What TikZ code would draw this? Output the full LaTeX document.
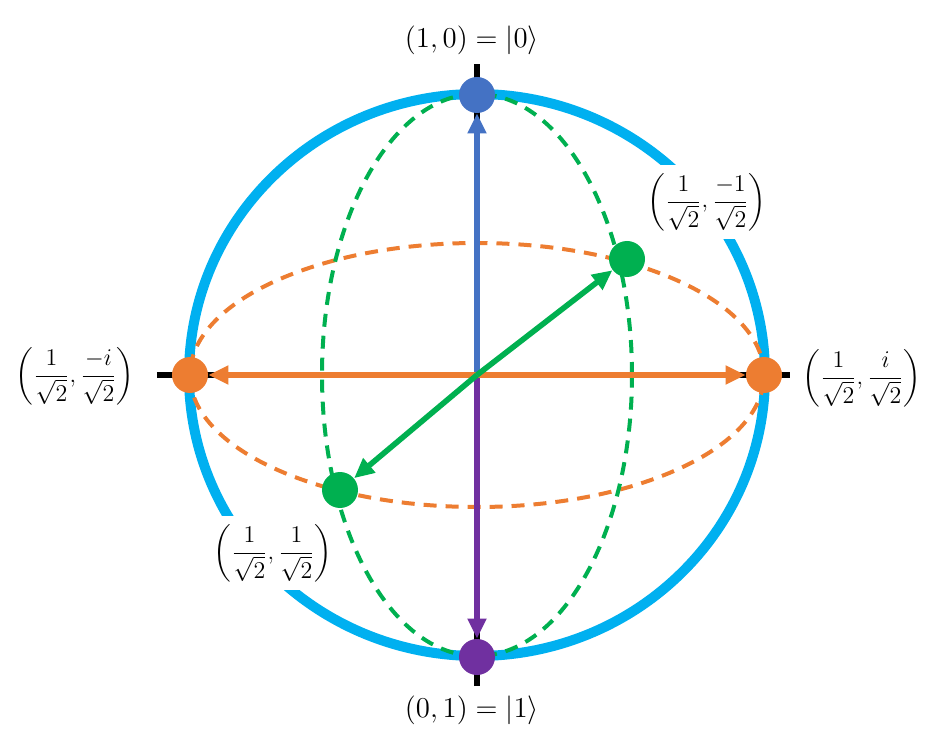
\documentclass[tikz,border=0pt]{standalone}
\usepackage{amsmath}
\usetikzlibrary{arrows.meta}
\definecolor{skyblue}{HTML}{00B0F0}
\definecolor{zeroblue}{HTML}{4472C4}
\definecolor{oneviolet}{HTML}{7030A0}
\definecolor{qorange}{HTML}{ED7D31}
\definecolor{qgreen}{HTML}{00B050}
\begin{document}
\begin{tikzpicture}[x=.5pt, y=.5pt, line join=round, >={Triangle[length=10pt,width=9pt]},
	dot/.style={circle, minimum size=18pt, inner sep=0pt},
	vec/.style={line width=2.8pt, ->},
	ring/.style={line width=2pt, dash pattern=on 6.5pt off 4.5pt},
	lbl/.style={font=\fontsize{14.5}{17}\selectfont, inner sep=1pt},
	frac/.style={font=\fontsize{12.5}{15}\selectfont, inner sep=1pt},
	cover/.style={frac, fill=white, inner sep=4pt}]
	\def\R{288} % Bán kính ngang
	\def\r{281} % Bán kính dọc
	\useasboundingbox (-477,-364) rectangle (454,375);
	\coordinate (O) at (0,0);
	\draw[skyblue, line width=5pt] (O) ellipse ({\R} and {\r});
	\draw[ring, qorange] (O) ellipse (287 and 132);
	\draw[ring, qgreen] (O) ellipse (155 and 281);
	\node[cover] (ta) at (230,173) {$\left(\dfrac{1}{\sqrt{2}},\dfrac{-1}{\sqrt{2}}\right)$};
	\node[cover] (tb) at (-204,-178) {$\left(\dfrac{1}{\sqrt{2}},\dfrac{1}{\sqrt{2}}\right)$};
	\draw[line width=2.8pt] (-320,0)--(313,0);
	\draw[line width=2.8pt] (0,-311)--(0,311);
	\node[dot, fill=zeroblue] (k0) at (0,280) {};
	\node[dot, fill=oneviolet] (k1) at (0,-282) {};
	\node[dot, fill=qorange] (km) at (-287,0) {};
	\node[dot, fill=qorange] (kp) at (287,0) {};
	\node[dot, fill=qgreen] (ka) at (150,116) {};
	\node[dot, fill=qgreen] (kb) at (-137,-115) {};
	\draw[vec, zeroblue] (O)--(k0);
	\draw[vec, oneviolet] (O)--(k1);
	\draw[vec, qorange] (O)--(km);
	\draw[vec, qorange] (O)--(kp);
	\draw[vec, qgreen] (O)--(ka);
	\draw[vec, qgreen] (O)--(kb);
	\node[lbl] (t0) at (-5,335) {$(1,0)=|0\rangle$};
	\node[lbl] (t1) at (-5,-335) {$(0,1)=|1\rangle$};
	\node[frac] (tm) at (-402,-1) {$\left(\dfrac{1}{\sqrt{2}},\dfrac{-i}{\sqrt{2}}\right)$};
	\node[frac] (tp) at (385,-3) {$\left(\dfrac{1}{\sqrt{2}},\dfrac{i}{\sqrt{2}}\right)$};
\end{tikzpicture}
\end{document}
